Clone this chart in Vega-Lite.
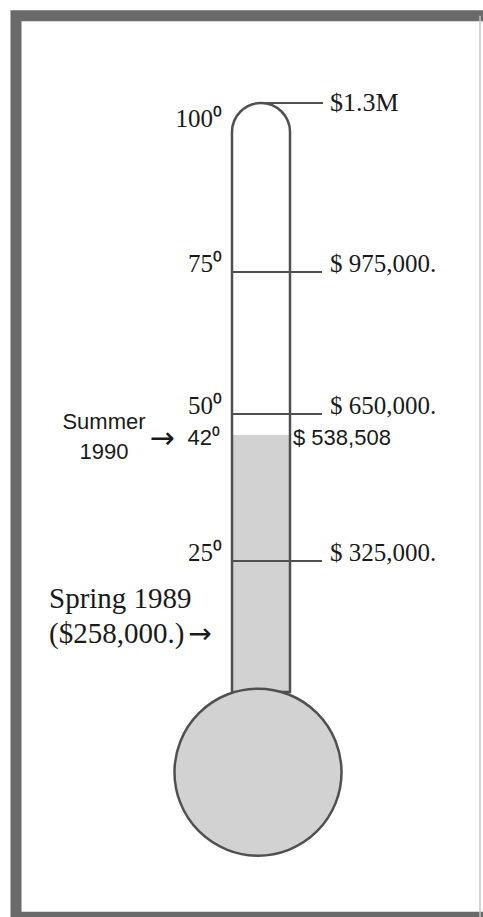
{
  "$schema": "https://vega.github.io/schema/vega-lite/v6.json",
  "width": 483,
  "height": 917,
  "autosize": {"type": "none"},
  "padding": 0,
  "background": "white",
  "config": {"view": {"stroke": null}},
  "datasets": {
    "body": [
      {"part": "tube", "low": 0, "high": 100},
      {"part": "mercury", "low": 0, "high": 42}
    ],
    "ticks": [
      {"deg": 100, "degLabel": "100⁰", "amount": "$1.3M"},
      {"deg": 75, "degLabel": "75⁰", "amount": "$ 975,000."},
      {"deg": 50, "degLabel": "50⁰", "amount": "$ 650,000."},
      {"deg": 25, "degLabel": "25⁰", "amount": "$ 325,000."}
    ],
    "current": [
      {"deg": 42, "degLabel": "42⁰", "pointer": "→", "amount": "$ 538,508", "when": "Summer 1990"}
    ],
    "spring": [
      {"deg": 19.85, "when": "Spring 1989", "amount": "($258,000.)", "pointer": "→"}
    ]
  },
  "layer": [
    {
      "data": {"name": "body"},
      "transform": [{"filter": "datum.part === 'mercury'"}],
      "mark": {"type": "rect", "fill": "#d2d2d2"},
      "encoding": {
        "x": {"datum": 233, "type": "quantitative", "scale": {"domain": [0, 483], "nice": false, "zero": false}, "axis": null},
        "x2": {"datum": 289},
        "y": {"field": "high", "type": "quantitative", "scale": {"domain": [0, 25, 42, 50, 75, 100], "range": [692, 561, 435, 414, 272, 103], "nice": false, "zero": false}, "axis": null},
        "y2": {"field": "low"}
      }
    },
    {
      "data": {"name": "body"},
      "transform": [{"filter": "datum.part === 'tube'"}],
      "mark": {"type": "rect", "fillOpacity": 0, "stroke": "#505050", "strokeWidth": 2.5, "cornerRadiusTopLeft": 29, "cornerRadiusTopRight": 29},
      "encoding": {
        "x": {"datum": 232, "type": "quantitative", "scale": {"domain": [0, 483], "nice": false, "zero": false}, "axis": null},
        "x2": {"datum": 290},
        "y": {"field": "high", "type": "quantitative", "scale": {"domain": [0, 25, 42, 50, 75, 100], "range": [692, 561, 435, 414, 272, 103], "nice": false, "zero": false}, "axis": null},
        "y2": {"field": "low"}
      }
    },
    {
      "data": {"name": "ticks"},
      "transform": [{"filter": "datum.deg < 100"}],
      "mark": {"type": "rule", "stroke": "#505050", "strokeWidth": 2},
      "encoding": {
        "x": {"datum": 232, "type": "quantitative", "scale": {"domain": [0, 483], "nice": false, "zero": false}, "axis": null},
        "x2": {"datum": 322},
        "y": {"field": "deg", "type": "quantitative", "scale": {"domain": [0, 25, 42, 50, 75, 100], "range": [692, 561, 435, 414, 272, 103], "nice": false, "zero": false}, "axis": null}
      }
    },
    {
      "data": {"name": "ticks"},
      "transform": [{"filter": "datum.deg === 100"}],
      "mark": {"type": "rule", "stroke": "#505050", "strokeWidth": 2},
      "encoding": {
        "x": {"datum": 261, "type": "quantitative", "scale": {"domain": [0, 483], "nice": false, "zero": false}, "axis": null},
        "x2": {"datum": 323},
        "y": {"field": "deg", "type": "quantitative", "scale": {"domain": [0, 25, 42, 50, 75, 100], "range": [692, 561, 435, 414, 272, 103], "nice": false, "zero": false}, "axis": null}
      }
    },
    {
      "data": {"name": "body"},
      "transform": [{"filter": "datum.part === 'mercury'"}],
      "mark": {"type": "point", "shape": "circle", "filled": true, "fill": "#d2d2d2", "stroke": "#505050", "strokeWidth": 2.5, "opacity": 1, "size": 27900},
      "encoding": {
        "x": {"datum": 258, "type": "quantitative", "scale": {"domain": [0, 483], "nice": false, "zero": false}, "axis": null},
        "y": {"datum": -15.3, "type": "quantitative", "scale": {"domain": [0, 25, 42, 50, 75, 100], "range": [692, 561, 435, 414, 272, 103], "nice": false, "zero": false}, "axis": null}
      }
    },
    {
      "data": {"name": "ticks"},
      "transform": [{"filter": "datum.deg < 100"}],
      "mark": {"type": "text", "align": "right", "baseline": "alphabetic", "font": "Liberation Serif", "fontSize": 25, "fill": "#1a1a1a"},
      "encoding": {
        "x": {"datum": 222, "type": "quantitative", "scale": {"domain": [0, 483], "nice": false, "zero": false}, "axis": null},
        "y": {"field": "deg", "type": "quantitative", "scale": {"domain": [0, 25, 42, 50, 75, 100], "range": [692, 561, 435, 414, 272, 103], "nice": false, "zero": false}, "axis": null},
        "text": {"field": "degLabel"}
      }
    },
    {
      "data": {"name": "ticks"},
      "transform": [{"filter": "datum.deg === 100"}],
      "mark": {"type": "text", "align": "right", "baseline": "alphabetic", "dy": 24, "font": "Liberation Serif", "fontSize": 25, "fill": "#1a1a1a"},
      "encoding": {
        "x": {"datum": 222, "type": "quantitative", "scale": {"domain": [0, 483], "nice": false, "zero": false}, "axis": null},
        "y": {"field": "deg", "type": "quantitative", "scale": {"domain": [0, 25, 42, 50, 75, 100], "range": [692, 561, 435, 414, 272, 103], "nice": false, "zero": false}, "axis": null},
        "text": {"field": "degLabel"}
      }
    },
    {
      "data": {"name": "ticks"},
      "transform": [{"filter": "datum.deg < 100"}],
      "mark": {"type": "text", "align": "left", "baseline": "alphabetic", "font": "Liberation Serif", "fontSize": 25, "fill": "#1a1a1a"},
      "encoding": {
        "x": {"datum": 330, "type": "quantitative", "scale": {"domain": [0, 483], "nice": false, "zero": false}, "axis": null},
        "y": {"field": "deg", "type": "quantitative", "scale": {"domain": [0, 25, 42, 50, 75, 100], "range": [692, 561, 435, 414, 272, 103], "nice": false, "zero": false}, "axis": null},
        "text": {"field": "amount"}
      }
    },
    {
      "data": {"name": "ticks"},
      "transform": [{"filter": "datum.deg === 100"}],
      "mark": {"type": "text", "align": "left", "baseline": "middle", "font": "Liberation Serif", "fontSize": 26, "fill": "#1a1a1a"},
      "encoding": {
        "x": {"datum": 330, "type": "quantitative", "scale": {"domain": [0, 483], "nice": false, "zero": false}, "axis": null},
        "y": {"field": "deg", "type": "quantitative", "scale": {"domain": [0, 25, 42, 50, 75, 100], "range": [692, 561, 435, 414, 272, 103], "nice": false, "zero": false}, "axis": null},
        "text": {"field": "amount"}
      }
    },
    {
      "data": {"name": "current"},
      "mark": {"type": "text", "align": "right", "baseline": "alphabetic", "dy": 10, "font": "Liberation Sans", "fontSize": 22, "fill": "#1a1a1a"},
      "encoding": {
        "x": {"datum": 220, "type": "quantitative", "scale": {"domain": [0, 483], "nice": false, "zero": false}, "axis": null},
        "y": {"field": "deg", "type": "quantitative", "scale": {"domain": [0, 25, 42, 50, 75, 100], "range": [692, 561, 435, 414, 272, 103], "nice": false, "zero": false}, "axis": null},
        "text": {"field": "degLabel"}
      }
    },
    {
      "data": {"name": "current"},
      "mark": {"type": "text", "align": "center", "baseline": "middle", "dy": 4, "font": "DejaVu Sans", "fontSize": 30, "fill": "#1a1a1a"},
      "encoding": {
        "x": {"datum": 162, "type": "quantitative", "scale": {"domain": [0, 483], "nice": false, "zero": false}, "axis": null},
        "y": {"field": "deg", "type": "quantitative", "scale": {"domain": [0, 25, 42, 50, 75, 100], "range": [692, 561, 435, 414, 272, 103], "nice": false, "zero": false}, "axis": null},
        "text": {"field": "pointer"}
      }
    },
    {
      "data": {"name": "current"},
      "mark": {"type": "text", "align": "left", "baseline": "alphabetic", "dy": 10, "font": "Liberation Sans", "fontSize": 22, "fill": "#1a1a1a"},
      "encoding": {
        "x": {"datum": 293, "type": "quantitative", "scale": {"domain": [0, 483], "nice": false, "zero": false}, "axis": null},
        "y": {"field": "deg", "type": "quantitative", "scale": {"domain": [0, 25, 42, 50, 75, 100], "range": [692, 561, 435, 414, 272, 103], "nice": false, "zero": false}, "axis": null},
        "text": {"field": "amount"}
      }
    },
    {
      "data": {"name": "current"},
      "mark": {"type": "text", "align": "center", "baseline": "middle", "lineBreak": " ", "lineHeight": 30, "dy": -13, "font": "Liberation Sans", "fontSize": 22, "fill": "#1a1a1a"},
      "encoding": {
        "x": {"datum": 104, "type": "quantitative", "scale": {"domain": [0, 483], "nice": false, "zero": false}, "axis": null},
        "y": {"field": "deg", "type": "quantitative", "scale": {"domain": [0, 25, 42, 50, 75, 100], "range": [692, 561, 435, 414, 272, 103], "nice": false, "zero": false}, "axis": null},
        "text": {"field": "when"}
      }
    },
    {
      "data": {"name": "spring"},
      "mark": {"type": "text", "align": "left", "baseline": "alphabetic", "dy": 20, "font": "Liberation Serif", "fontSize": 29, "fill": "#1a1a1a"},
      "encoding": {
        "x": {"datum": 49, "type": "quantitative", "scale": {"domain": [0, 483], "nice": false, "zero": false}, "axis": null},
        "y": {"field": "deg", "type": "quantitative", "scale": {"domain": [0, 25, 42, 50, 75, 100], "range": [692, 561, 435, 414, 272, 103], "nice": false, "zero": false}, "axis": null},
        "text": {"field": "when"}
      }
    },
    {
      "data": {"name": "spring"},
      "mark": {"type": "text", "align": "left", "baseline": "alphabetic", "dy": 55, "font": "Liberation Serif", "fontSize": 29, "fill": "#1a1a1a"},
      "encoding": {
        "x": {"datum": 49, "type": "quantitative", "scale": {"domain": [0, 483], "nice": false, "zero": false}, "axis": null},
        "y": {"field": "deg", "type": "quantitative", "scale": {"domain": [0, 25, 42, 50, 75, 100], "range": [692, 561, 435, 414, 272, 103], "nice": false, "zero": false}, "axis": null},
        "text": {"field": "amount"}
      }
    },
    {
      "data": {"name": "spring"},
      "mark": {"type": "text", "align": "center", "baseline": "middle", "dy": 47, "font": "DejaVu Sans", "fontSize": 28, "fill": "#1a1a1a"},
      "encoding": {
        "x": {"datum": 200, "type": "quantitative", "scale": {"domain": [0, 483], "nice": false, "zero": false}, "axis": null},
        "y": {"field": "deg", "type": "quantitative", "scale": {"domain": [0, 25, 42, 50, 75, 100], "range": [692, 561, 435, 414, 272, 103], "nice": false, "zero": false}, "axis": null},
        "text": {"field": "pointer"}
      }
    },
    {
      "data": {"name": "body"},
      "transform": [{"filter": "datum.part === 'tube'"}],
      "mark": {"type": "rect", "fillOpacity": 0, "stroke": "#6a6a6a", "strokeWidth": 11},
      "encoding": {
        "x": {"datum": 16, "type": "quantitative", "scale": {"domain": [0, 483], "nice": false, "zero": false}, "axis": null},
        "x2": {"datum": 500},
        "y": {"datum": 112.9, "type": "quantitative", "scale": {"domain": [0, 25, 42, 50, 75, 100], "range": [692, 561, 435, 414, 272, 103], "nice": false, "zero": false}, "axis": null},
        "y2": {"datum": -43}
      }
    },
    {
      "data": {"name": "body"},
      "transform": [{"filter": "datum.part === 'tube'"}],
      "mark": {"type": "rule", "stroke": "#c4c4c4", "strokeWidth": 1.5},
      "encoding": {
        "x": {"datum": 480, "type": "quantitative", "scale": {"domain": [0, 483], "nice": false, "zero": false}, "axis": null},
        "y": {"datum": 112.9, "type": "quantitative", "scale": {"domain": [0, 25, 42, 50, 75, 100], "range": [692, 561, 435, 414, 272, 103], "nice": false, "zero": false}, "axis": null},
        "y2": {"datum": -43}
      }
    }
  ]
}
